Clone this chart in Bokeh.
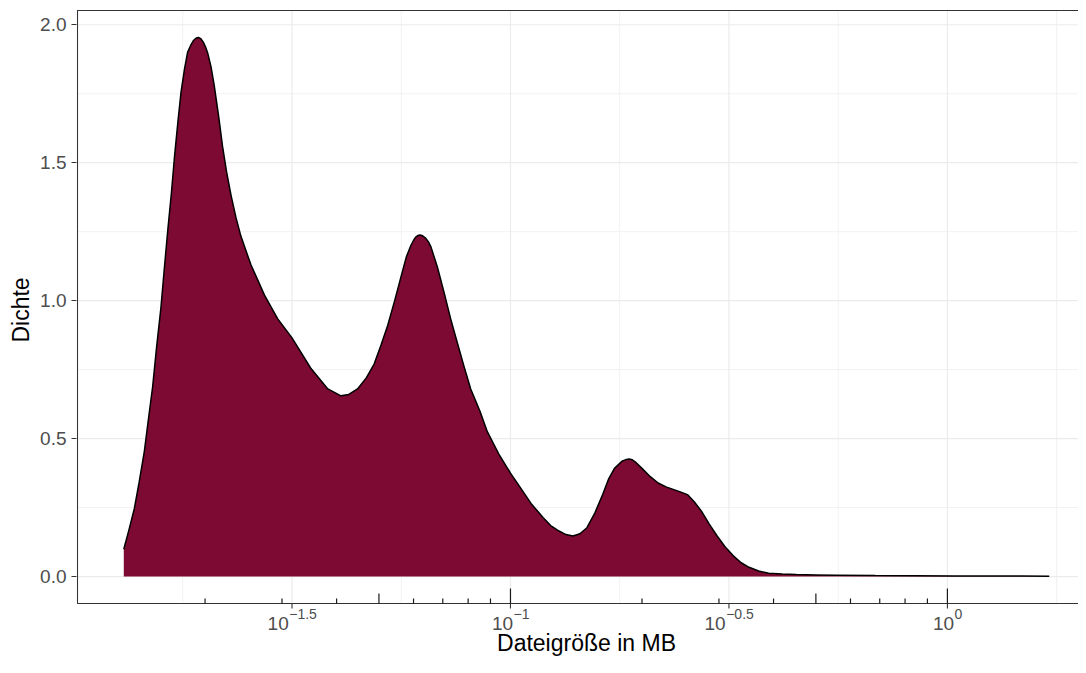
import math
from bokeh.plotting import figure
from bokeh.models import Range1d, FixedTicker, Label, PrintfTickFormatter, Title
from bokeh.embed import file_html
from bokeh.resources import INLINE

# ---- data ----
log10_mb = [-1.885, -1.873, -1.861, -1.850, -1.838, -1.829, -1.819, -1.810, -1.800, -1.792,
            -1.784, -1.776, -1.769, -1.761, -1.754, -1.746, -1.739, -1.732, -1.725, -1.719,
            -1.714, -1.709, -1.703, -1.698, -1.693, -1.685, -1.678, -1.668, -1.659, -1.649,
            -1.639, -1.628, -1.617, -1.594, -1.563, -1.533, -1.500, -1.457, -1.418, -1.388,
            -1.370, -1.350, -1.330, -1.312, -1.296, -1.281, -1.265, -1.250, -1.238, -1.228,
            -1.222, -1.217, -1.212, -1.207, -1.201, -1.195, -1.188, -1.182, -1.167, -1.152,
            -1.137, -1.121, -1.106, -1.091, -1.070, -1.053, -1.027, -1.000, -0.970, -0.953,
            -0.925, -0.908, -0.889, -0.873, -0.857, -0.841, -0.825, -0.807, -0.789, -0.775,
            -0.762, -0.745, -0.737, -0.729, -0.721, -0.714, -0.699, -0.680, -0.662, -0.644,
            -0.626, -0.610, -0.595, -0.579, -0.563, -0.545, -0.527, -0.509, -0.490, -0.472,
            -0.454, -0.432, -0.409, -0.378, -0.346, -0.300, -0.255, -0.165, -0.074, 0.017,
            0.107, 0.170, 0.233]
dichte = [0.099, 0.170, 0.245, 0.340, 0.453, 0.565, 0.687, 0.830, 0.974, 1.120,
          1.260, 1.390, 1.520, 1.650, 1.755, 1.840, 1.900, 1.925, 1.944, 1.952,
          1.954, 1.950, 1.937, 1.920, 1.898, 1.845, 1.780, 1.670, 1.560, 1.460,
          1.378, 1.300, 1.234, 1.130, 1.020, 0.935, 0.865, 0.755, 0.680, 0.655,
          0.660, 0.680, 0.720, 0.770, 0.840, 0.910, 1.000, 1.090, 1.160, 1.200,
          1.218, 1.230, 1.236, 1.238, 1.235, 1.228, 1.214, 1.195, 1.120, 1.030,
          0.935, 0.844, 0.760, 0.680, 0.600, 0.525, 0.445, 0.375, 0.305, 0.265,
          0.213, 0.185, 0.165, 0.152, 0.147, 0.155, 0.177, 0.230, 0.297, 0.355,
          0.392, 0.418, 0.423, 0.426, 0.423, 0.415, 0.392, 0.362, 0.339, 0.325,
          0.315, 0.306, 0.297, 0.270, 0.237, 0.190, 0.147, 0.108, 0.075, 0.050,
          0.0335, 0.020, 0.012, 0.009, 0.007, 0.006, 0.005, 0.0035, 0.0025, 0.002,
          0.002, 0.0018, 0.0015]

x_tick_exps = [-1.5, -1.0, -0.5, 0.0]
x_tick_exp_labels = ["\u22121.5", "\u22121", "\u22120.5", "0"]
x_minor_exps = [-1.75, -1.25, -0.75, -0.25, 0.25]
y_ticks = [0.0, 0.5, 1.0, 1.5, 2.0]
y_minor = [0.25, 0.75, 1.25, 1.75]

x_title = "Dateigröße in MB"
y_title = "Dichte"

mb = [10 ** v for v in log10_mb]

# ---- layout (pixels) ----
W, H = 1078, 657
PANEL_L, PANEL_T, PANEL_B = 77, 10, 603
FULL_PANEL_W = 1018.0          # reference panel runs past the picture's right edge
LABEL_SHIFT = 8                # labels render this many px below their anchor

span_x = max(log10_mb) - min(log10_mb)
xlo = min(log10_mb) - 0.05 * span_x
xhi_full = max(log10_mb) + 0.05 * span_x
ppd = FULL_PANEL_W / (xhi_full - xlo)           # px per decade
ymax = max(dichte)
ylo, yhi = -0.05 * ymax, ymax * 1.05
ppu = (PANEL_B - PANEL_T) / (yhi - ylo)          # px per density unit

fl, ft = PANEL_L - 1, PANEL_T - 1                 # frame one px outside the panel border
xr0 = xlo - 1 / ppd
xr1 = xr0 + (W - fl) / ppd
yr1 = yhi + 1 / ppu
yr0 = yr1 - (H - ft) / ppu
xr_hi = 10 ** xr1

FONT = "Liberation Sans"
FILL = "#7D0A32"
DARK = "#333333"
GRID = "#EBEBEB"
GRID_MINOR = "#F2F2F2"
TITLE_PX = 23

def below_panel(px):
    """data y of a baseline px pixels below the panel bottom"""
    return ylo - (px - LABEL_SHIFT) / ppu

p = figure(width=W, height=H, x_axis_type="log",
           x_range=Range1d(10 ** xr0, 10 ** xr1), y_range=Range1d(yr0, yr1),
           output_backend="svg", toolbar_location=None,
           min_border_left=fl, min_border_right=0,
           min_border_top=ft, min_border_bottom=0)
p.background_fill_color = "white"
p.border_fill_color = "white"
p.outline_line_color = None
p.xaxis.visible = False
p.grid.visible = False

ya = p.yaxis[0]
ya.ticker = FixedTicker(ticks=y_ticks, minor_ticks=y_minor)
ya.formatter = PrintfTickFormatter(format="%.1f")
ya.axis_line_color = None
ya.major_tick_in = 0
ya.major_tick_out = 5
ya.minor_tick_in = 0
ya.minor_tick_out = 0
ya.major_tick_line_color = DARK
ya.major_tick_line_width = 1.1
ya.major_label_text_font = FONT
ya.major_label_text_font_size = "19px"
ya.major_label_text_color = "#4D4D4D"
ya.major_label_standoff = 5

# y-axis title as a side title (real text, outside the frame), centred on the panel
title_w = 2.834 * TITLE_PX            # "Dichte" advance width in em
panel_mid = (PANEL_T + PANEL_B) / 2.0 + 3
p.add_layout(Title(text=y_title, align="left", offset=H - (panel_mid + title_w / 2),
                   text_font=FONT, text_font_size=f"{TITLE_PX}px", text_font_style="normal",
                   text_color="black", standoff=8), "left")

# ---- grid ----
xs_major = [10 ** e for e in x_tick_exps]
xs_minor = [10 ** e for e in x_minor_exps]
p.segment(x0=xs_minor, y0=[ylo] * len(xs_minor), x1=xs_minor, y1=[yhi] * len(xs_minor),
          line_color=GRID_MINOR, line_width=1.0)
p.segment(x0=[10 ** xlo] * len(y_minor), y0=y_minor, x1=[xr_hi] * len(y_minor), y1=y_minor,
          line_color=GRID_MINOR, line_width=1.0)
p.segment(x0=xs_major, y0=[ylo] * len(xs_major), x1=xs_major, y1=[yhi] * len(xs_major),
          line_color=GRID, line_width=1.2)
p.segment(x0=[10 ** xlo] * len(y_ticks), y0=y_ticks, x1=[xr_hi] * len(y_ticks), y1=y_ticks,
          line_color=GRID, line_width=1.2)

# ---- density ----
p.varea(x=mb, y1=[0.0] * len(mb), y2=dichte, fill_color=FILL)
p.line(x=mb, y=dichte, line_color="black", line_width=1.5)

# ---- panel border (top, left, bottom; right edge is outside the picture) ----
p.line(x=[xr_hi, 10 ** xlo, 10 ** xlo, xr_hi], y=[yhi, yhi, ylo, ylo],
       line_color=DARK, line_width=1.1)

# ---- x axis ticks (outside) ----
p.segment(x0=xs_major, y0=[ylo] * len(xs_major), x1=xs_major,
          y1=[ylo - 5 / ppu] * len(xs_major), line_color=DARK, line_width=1.1)

# ---- log ticks (annotation_logticks style) inside the panel ----
lx, ly0, ly1 = [], [], []
for k in range(-3, 2):
    for m in range(1, 10):
        v = m * 10 ** k
        if 10 ** xlo < v < xr_hi:
            length = 15 if m == 1 else (10 if m == 5 else 5)
            lx.append(v)
            ly0.append(ylo)
            ly1.append(ylo + length / ppu)
p.segment(x0=lx, y0=ly0, x1=lx, y1=ly1, line_color="#1A1A1A", line_width=1.2)

# ---- x tick labels 10^e ----
def text_w(s, size):
    cw = {"1": .556, "0": .556, "5": .556, ".": .278, "\u2212": .584}
    return sum(cw.get(c, .556) for c in s) * size

BASE, SUP = 19, 14
for e, lab in zip(x_tick_exps, x_tick_exp_labels):
    bw = text_w("10", BASE)
    ew = text_w(lab, SUP)
    piv = (bw - ew) / 2.0
    p.add_layout(Label(x=10 ** e, y=below_panel(28), text="10",
                       text_align="right", text_baseline="alphabetic", x_offset=piv,
                       text_font=FONT, text_font_size=f"{BASE}px", text_color="#4D4D4D"))
    p.add_layout(Label(x=10 ** e, y=below_panel(18), text=lab,
                       text_align="left", text_baseline="alphabetic", x_offset=piv + 0.5,
                       text_font=FONT, text_font_size=f"{SUP}px", text_color="#4D4D4D"))

# ---- x-axis title ----
p.add_layout(Label(x=10 ** ((xlo + xhi_full) / 2), y=below_panel(47), text=x_title,
                   text_align="center", text_baseline="alphabetic",
                   text_font=FONT, text_font_size=f"{TITLE_PX}px", text_color="black"))

open("out.html", "w").write(file_html(p, INLINE))
